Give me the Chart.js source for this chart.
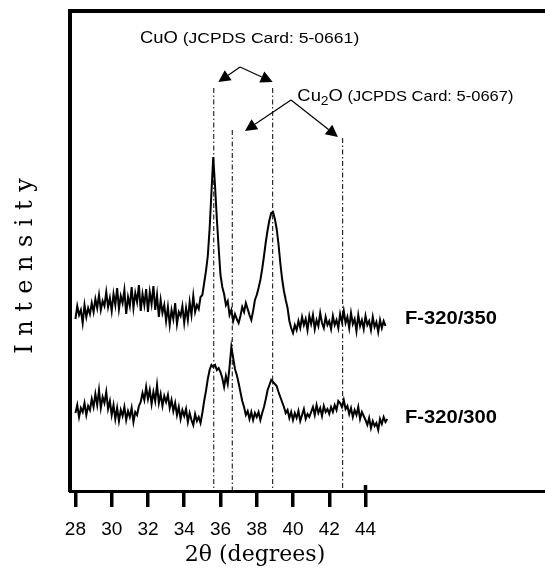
<!DOCTYPE html>
<html>
<head>
<meta charset="utf-8">
<script src="https://cdn.jsdelivr.net/npm/chart.js@4.4.1/dist/chart.umd.min.js"></script>
<style>
html,body{margin:0;padding:0;background:#fff;}
#wrap{width:545px;height:569px;position:relative;}
</style>
</head>
<body>
<div id="wrap"><canvas id="c"></canvas></div>
<script>
// 2-theta scan positions (degrees)
const twoTheta = [
28.0,28.1,28.2,28.3,28.4,28.5,28.6,28.7,28.8,28.9,
29.0,29.1,29.2,29.3,29.4,29.5,29.6,29.7,29.8,29.9,
30.0,30.1,30.2,30.3,30.4,30.5,30.6,30.7,30.8,30.9,
31.0,31.1,31.2,31.3,31.4,31.5,31.6,31.7,31.8,31.9,
32.0,32.1,32.2,32.3,32.4,32.5,32.6,32.7,32.8,32.9,
33.0,33.1,33.2,33.3,33.4,33.5,33.6,33.7,33.8,33.9,
34.0,34.1,34.2,34.3,34.4,34.5,34.6,34.7,34.8,34.9,
35.0,35.1,35.2,35.3,35.4,35.5,35.6,35.7,35.8,35.9,
36.0,36.1,36.2,36.3,36.4,36.5,36.6,36.7,36.8,36.9,
37.0,37.1,37.2,37.3,37.4,37.5,37.6,37.7,37.8,37.9,
38.0,38.1,38.2,38.3,38.4,38.5,38.6,38.7,38.8,38.9,
39.0,39.1,39.2,39.3,39.4,39.5,39.6,39.7,39.8,39.9,
40.0,40.1,40.2,40.3,40.4,40.5,40.6,40.7,40.8,40.9,
41.0,41.1,41.2,41.3,41.4,41.5,41.6,41.7,41.8,41.9,
42.0,42.1,42.2,42.3,42.4,42.5,42.6,42.7,42.8,42.9,
43.0,43.1,43.2,43.3,43.4,43.5,43.6,43.7,43.8,43.9,
44.0,44.1,44.2,44.3,44.4,44.5,44.6,44.7,44.8,44.9,
45.0,45.1,45.2];

// Intensity (arb. units, offset traces)
const f320_350 = [
172,185,176,181,168,186,174,183,177,188,
179,192,183,196,181,190,185,199,184,193,
180,197,186,203,182,195,188,201,177,194,
185,204,183,198,189,206,180,197,186,202,
179,199,187,205,181,196,174,191,178,186,
170,184,166,181,172,188,167,179,175,185,
168,183,171,189,176,195,179,186,182,194,
196,208,220,235,262,298,334,305,272,243,
216,204,197,186,190,176,181,170,177,172,
168,175,184,179,188,182,176,171,180,191,
196,203,211,222,235,249,261,271,278,279,
272,262,247,228,212,200,191,183,170,163,
158,166,161,170,163,174,166,172,161,175,
167,176,162,171,165,178,168,163,174,166,
170,162,175,166,171,163,177,169,180,168,
174,163,178,167,172,160,176,165,171,162,
175,166,170,161,174,164,169,159,171,163,
170,165];

const f320_300 = [
78,86,74,83,79,88,76,85,81,92,
84,97,86,101,83,94,88,99,82,90,
76,86,72,83,70,81,75,84,71,80,
74,83,69,79,76,85,89,98,91,104,
92,101,87,99,90,106,88,97,85,95,
89,96,83,91,80,88,76,84,72,81,
75,82,69,78,71,66,77,70,74,68,
78,90,100,112,121,126,124,126,121,123,
119,113,104,115,107,124,144,133,122,116,
108,99,90,84,76,80,72,79,71,78,
74,79,71,78,84,92,101,106,111,109,
107,105,99,94,89,84,78,81,73,79,
71,78,73,80,70,76,82,72,77,74,
79,84,76,86,78,83,75,85,79,82,
77,84,79,86,81,90,88,84,91,82,
85,77,83,74,81,76,84,72,79,75,
71,66,73,63,70,65,68,61,72,67,
74,69,72];

const seriesNames = ['F-320/350', 'F-320/300'];
const xTicks = [28, 30, 32, 34, 36, 38, 40, 42, 44];

// reference peak positions (dash-dot markers) and their top intensities
const cuoPeaks = [35.63, 38.88];
const cuoLineTop = [403, 403];
const cu2oPeaks = [36.65, 42.74];
const cu2oLineTop = [361, 353];

// annotation anchors (data coordinates: [2theta, intensity])
const cuoArrowFrom = [37.08, 424];
const cuoArrowTo = [[35.88, 409], [38.88, 409]];
const cu2oArrowFrom = [39.89, 391];
const cu2oArrowTo = [[37.35, 360], [42.48, 354]];
const cuoLabelAt = [31.56, 448];
const cu2oLabelAt = [40.24, 390];
const seriesLabelAt = [[46.18, 167.5], [46.18, 68]];

const xMin = 27.70, xMax = 53.90, yMin = 0, yMax = 480;

function pts(ys) { return ys.map((v, i) => ({ x: twoTheta[i], y: v })); }

const refSets = [];
cuoPeaks.forEach((p, i) => refSets.push({ p, top: cuoLineTop[i] }));
cu2oPeaks.forEach((p, i) => refSets.push({ p, top: cu2oLineTop[i] }));

const datasets = [
  { label: seriesNames[0], data: pts(f320_350), borderColor: '#000', borderWidth: 2, pointRadius: 0, tension: 0 },
  { label: seriesNames[1], data: pts(f320_300), borderColor: '#000', borderWidth: 2, pointRadius: 0, tension: 0 }
].concat(refSets.map(r => ({
  label: 'ref ' + r.p,
  data: [{ x: r.p, y: r.top }, { x: r.p, y: yMin }],
  borderColor: '#000', borderWidth: 1, borderDash: [5, 2.5, 1.5, 2.5], pointRadius: 0
})));

const SANS = '"Liberation Sans", Arial, sans-serif';
const SERIF = '"DejaVu Serif", "Liberation Serif", serif';

const annotPlugin = {
  id: 'annot',
  afterDraw(chart) {
    const { ctx, chartArea, scales: { x, y } } = chart;
    const P = v => [x.getPixelForValue(v[0]), y.getPixelForValue(v[1])];
    ctx.save();
    ctx.fillStyle = '#000';
    ctx.strokeStyle = '#000';
    ctx.lineWidth = 1.2;
    const arrow = (from, to) => {
      const [x0, y0] = P(from), [x1, y1] = P(to);
      const a = Math.atan2(y1 - y0, x1 - x0), L = 12, W = 6;
      const bx = x1 - L * Math.cos(a), by = y1 - L * Math.sin(a);
      ctx.beginPath(); ctx.moveTo(x0, y0); ctx.lineTo(bx, by); ctx.stroke();
      ctx.beginPath(); ctx.moveTo(x1, y1);
      ctx.lineTo(bx + W * Math.sin(a), by - W * Math.cos(a));
      ctx.lineTo(bx - W * Math.sin(a), by + W * Math.cos(a));
      ctx.closePath(); ctx.fill();
    };
    cuoArrowTo.forEach(t => arrow(cuoArrowFrom, t));
    cu2oArrowTo.forEach(t => arrow(cu2oArrowFrom, t));

    // short tick extension above the axis at 44
    const t44 = x.getPixelForValue(xTicks[xTicks.length - 1]);
    ctx.fillRect(t44 - 1.75, chartArea.bottom - 6, 3.5, 6);

    ctx.textAlign = 'left';
    ctx.textBaseline = 'alphabetic';
    // text runs: [text, font, dy, horizontal scale]
    const runs = (pos, parts) => {
      let [px, py] = P(pos);
      parts.forEach(([t, f, dy, sx]) => {
        sx = sx || 1;
        ctx.font = f;
        ctx.save();
        ctx.translate(px, py + (dy || 0));
        ctx.scale(sx, 1);
        ctx.fillText(t, 0, 0);
        ctx.restore();
        px += ctx.measureText(t).width * sx;
      });
    };
    const big = '16px ' + SANS, small = '15px ' + SANS, sub = '12px ' + SANS;
    runs(cuoLabelAt, [['CuO', big, 0, 1.15], [' (JCPDS Card: 5-0661)', small, 0, 1.17]]);
    runs(cu2oLabelAt, [['Cu', big, 0, 1.15], ['2', sub, 3.5, 1.15], ['O', big, 0, 1.15], [' (JCPDS Card: 5-0667)', small, 0, 1.1]]);

    seriesNames.forEach((n, i) => runs(seriesLabelAt[i], [[n, 'bold 18px ' + SANS, 0, 1.12]]));

    // x axis title
    ctx.font = '22px ' + SERIF;
    ctx.textAlign = 'center';
    ctx.fillText('2\u03B8 (degrees)', chartArea.left + 185, 561);

    // y axis title (letter-spaced, vertical)
    ctx.save();
    ctx.translate(32, 266);
    ctx.rotate(-Math.PI / 2);
    ctx.font = '24px ' + SERIF;
    const ls = 8.5;
    try { ctx.letterSpacing = ls + 'px'; } catch (e) {}
    ctx.textAlign = 'left';
    const w = ctx.measureText('Intensity').width - ls;
    ctx.fillText('Intensity', -w / 2, 0);
    ctx.restore();

    ctx.restore();
  }
};

new Chart(document.getElementById('c'), {
  type: 'line',
  data: { datasets },
  options: {
    responsive: true,
    maintainAspectRatio: false,
    animation: false,
    devicePixelRatio: 1,
    layout: { padding: { left: 70, top: 11, right: 0, bottom: 0 } },
    plugins: { legend: { display: false }, tooltip: { enabled: false }, title: { display: false } },
    scales: {
      x: {
        type: 'linear', position: 'bottom', min: xMin, max: xMax,
        afterBuildTicks: s => { s.ticks = xTicks.map(v => ({ value: v })); },
        afterFit: s => { s.height = 78; },
        grid: { display: true, drawOnChartArea: false, drawTicks: true, tickLength: 16, lineWidth: 3.5, color: '#000' },
        border: { display: true, width: 3, color: '#000' },
        ticks: { color: '#000', font: { family: SANS, size: 19 }, padding: 11, maxRotation: 0, autoSkip: false }
      },
      xTop: {
        type: 'linear', position: 'top', min: xMin, max: xMax,
        afterFit: s => { s.height = 0; },
        grid: { display: false, drawTicks: false },
        ticks: { display: false },
        border: { display: true, width: 4, color: '#000' }
      },
      y: {
        type: 'linear', position: 'left', min: yMin, max: yMax,
        afterFit: s => { s.width = 0; },
        grid: { display: false, drawTicks: false },
        ticks: { display: false },
        border: { display: true, width: 4, color: '#000' }
      }
    }
  },
  plugins: [annotPlugin]
});
</script>
</body>
</html>
